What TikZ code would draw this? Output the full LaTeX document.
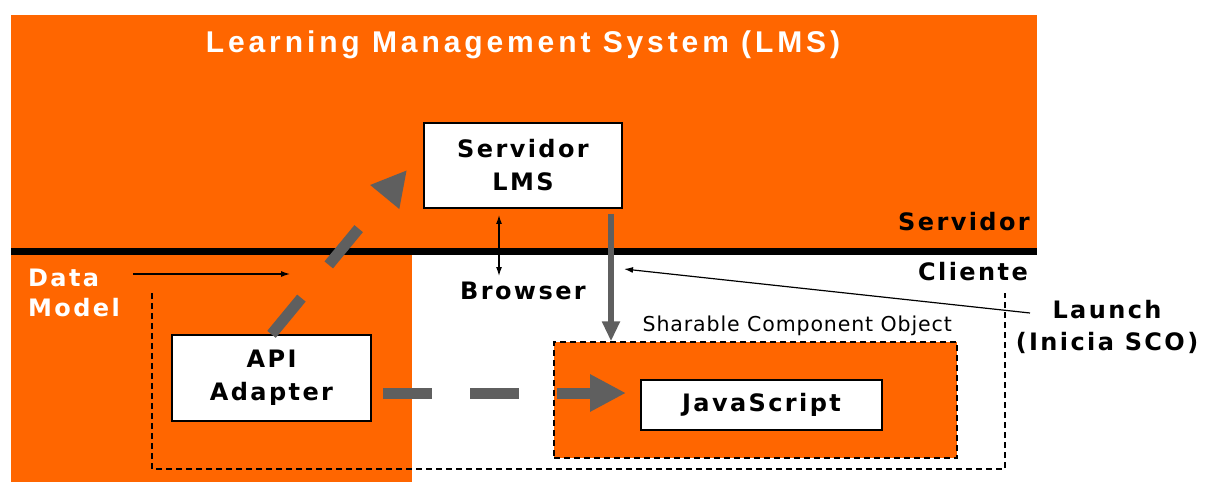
\documentclass[tikz,border=0pt]{standalone}
\usepackage{fontspec}
\setmainfont{DejaVu Sans}
\newfontfamily\titlefont[LetterSpace=13]{Liberation Sans}
\newfontfamily\labelfont[LetterSpace=10]{DejaVu Sans}
\newfontfamily\notefont[LetterSpace=4.3]{DejaVu Sans}
\usetikzlibrary{arrows.meta}
\definecolor{lmsorange}{HTML}{FF6600}
\definecolor{flowgray}{HTML}{5F5F5F}

\begin{document}
\begin{tikzpicture}[x=1pt,y=-1pt,
  whitebox/.style={draw=black, line width=1.3pt, fill=white, inner sep=0pt, align=center,
    font=\labelfont\bfseries\fontsize{24}{33}\selectfont},
  sidelbl/.style={font=\labelfont\bfseries\fontsize{24}{30}\selectfont, inner sep=0pt, align=left},
  thinarrow/.style={draw=black, line width=1.2pt, -{Latex[length=9pt,width=6pt]}},
  bothways/.style={draw=black, line width=1.2pt, {Latex[length=9pt,width=6pt]}-{Latex[length=9pt,width=6pt]}},
  regionline/.style={draw=black, line width=1.3pt, dash pattern=on 6pt off 4pt},
  flowline/.style={draw=flowgray, line width=11pt},
]
\useasboundingbox (0,0) rectangle (1207,489);

% server zone, client-side LMS area and the separating rule
\fill[lmsorange] (11,15) rectangle (1037,248);
\fill[lmsorange] (11,255) rectangle (412,482);
\fill[black] (11,247.5) rectangle (1037,255);

\node[font=\titlefont\bfseries\fontsize{30}{34}\selectfont, text=white, inner sep=0pt] (title) at (523,45)
  {Learning Management System (LMS)};

% zone labels
\node[sidelbl, anchor=east] (srvlbl) at (1030,222) {Servidor};
\node[sidelbl, anchor=east] (clilbl) at (1028,272) {Cliente};
\node[sidelbl, text=white, anchor=west] (dm1) at (28,278) {Data};
\node[sidelbl, text=white, anchor=west] (dm2) at (28,308) {Model};
\node[sidelbl, anchor=center] (browser) at (523,291) {Browser};
\node[sidelbl, anchor=center] (launch1) at (1107,310) {Launch};
\node[sidelbl, anchor=center] (launch2) at (1107,343) {(Inicia SCO)};

% client area (open at the top)
\draw[regionline] (152,293) |- (1005,469) -- (1005,293);

% sharable content object
\node[regionline, fill=lmsorange, minimum width=403pt, minimum height=116pt, inner sep=0pt]
  (sco) at (755.5,400) {};
\node[font=\notefont\fontsize{20.5}{24}\selectfont, anchor=south east, inner sep=0pt] (scolbl)
  at (952,336) {Sharable Component Object};

% boxes
\node[whitebox, minimum width=198pt, minimum height=85pt] (srv) at (523,165.5) {Servidor\\LMS};
\node[whitebox, minimum width=199pt, minimum height=86pt] (api) at (271.5,378) {API\\Adapter};
\node[whitebox, minimum width=241pt, minimum height=50pt] (js) at (761.5,405) {JavaScript};

% connector end points
\coordinate (dmA) at (133,274);
\coordinate (dmB) at (290,274);
\coordinate (brTop) at (499,215);
\coordinate (brBot) at (499,276);
\coordinate (runTop) at (611,214);
\coordinate (launchA) at (1030,313);
\coordinate (launchB) at (624,269);
\coordinate (upTip) at (407,170);
\coordinate (hStart) at (383,393);
\coordinate (hTip) at (626,393);

% thin connectors
\draw[thinarrow] (dmA) -- (dmB);
\draw[bothways] (brTop) -- (brBot);
\draw[thinarrow] (launchA) -- (launchB);

% launching the SCO
\draw[draw=flowgray, line width=6pt, -{Triangle[length=20pt,width=17pt]}] (runTop) -- (runTop |- sco.north);

% API communication (dashed, heavy)
\draw[flowline, dash pattern=on 47pt off 43pt, -{Triangle[length=35pt,width=35pt]}]
  (api.north) -- (upTip);
\draw[flowline, dash pattern=on 49pt off 38pt, -{Triangle[length=36pt,width=35pt]}]
  (hStart) -- (hTip);
\end{tikzpicture}
\end{document}
